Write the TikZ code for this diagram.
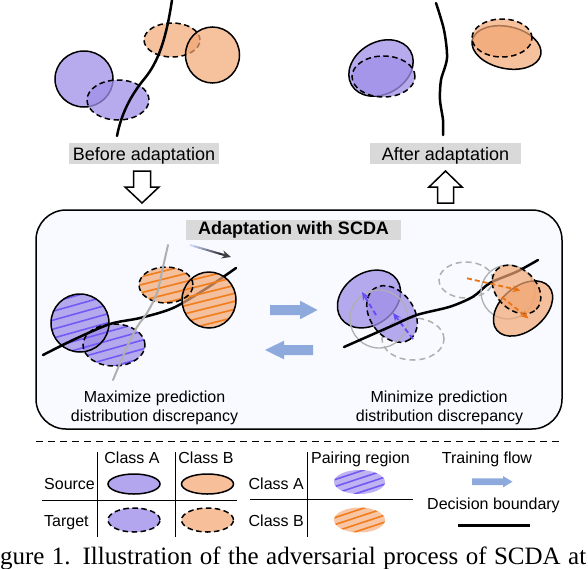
\documentclass[tikz,border=0pt]{standalone}
\usepackage{fontspec}
\setmainfont{Liberation Sans}
\newfontfamily\capfont{Liberation Serif}
\usetikzlibrary{arrows.meta,calc}
\definecolor{pA}{RGB}{159,143,232}
\definecolor{pAL}{RGB}{180,166,238}
\definecolor{oB}{RGB}{242,166,115}
\definecolor{oBL}{RGB}{247,192,155}
\definecolor{hatchP}{RGB}{115,90,245}
\definecolor{hatchO}{RGB}{240,125,30}
\definecolor{flow}{RGB}{142,170,220}
\definecolor{lblgray}{RGB}{217,217,217}
\definecolor{boxbg}{RGB}{248,250,255}
\definecolor{ghost}{RGB}{175,175,175}
\definecolor{arrP}{RGB}{100,75,245}
\definecolor{arrO}{RGB}{235,115,20}
\definecolor{gstart}{RGB}{205,215,248}
\tikzset{
  solidA/.style={draw=black, line width=1.5pt, fill=pA, fill opacity=0.75},
  dashA/.style={solidA, dash pattern=on 5.5pt off 3.5pt},
  solidB/.style={draw=black, line width=1.5pt, fill=oB, fill opacity=0.7},
  dashB/.style={solidB, dash pattern=on 5.5pt off 3.5pt},
  bnd/.style={line width=2.5pt, black, line cap=round},
  gbnd/.style={line width=2pt, ghost, line cap=round},
  ghostsolid/.style={draw=ghost, line width=1.3pt},
  ghostdash/.style={draw=ghost, line width=1.5pt, dash pattern=on 6pt off 4pt},
  hatchpl/.style={hatchP, line width=1.6pt},
  hatchol/.style={hatchO, line width=1.6pt},
  lbl/.style={fill=lblgray, inner sep=0pt, font=\fontsize{18}{20}\selectfont},
  txt/.style={inner sep=0pt, font=\fontsize{16}{18}\selectfont},
  hollow/.style={draw=black, line width=1.5pt, fill=white, line join=miter},
  tline/.style={line width=1.5pt, black},
  parrow/.style={arrP, line width=1.8pt, dash pattern=on 5pt off 3pt, -{Stealth[length=8pt,width=7pt]}},
  oarrow/.style={arrO, line width=1.8pt, dash pattern=on 5pt off 3pt, -{Stealth[length=8pt,width=7pt]}},
}
\begin{document}
\begin{tikzpicture}[x=1pt,y=-1pt]
\useasboundingbox (0,0) rectangle (588,568);

% ---------------- top left: before adaptation ----------------
\draw[solidA] (84,79) ellipse [x radius=29pt, y radius=28pt];
\draw[dashA] (118,100) ellipse [x radius=31pt, y radius=20pt];
\draw[dashB] (172,40) ellipse [x radius=28pt, y radius=17pt];
\draw[solidB] (212.5,55) ellipse [x radius=27pt, y radius=28pt];
\draw[bnd] (172,0) .. controls (166,40) and (158,62) .. (145,78) .. controls (130,96) and (121,115) .. (117,136);

\node[lbl, minimum width=150pt, text height=17.5pt, text depth=3.5pt, anchor=base] (before) at (144,160.5) {Before adaptation};
\draw[hollow] (133.5,171) -- (150.5,171) -- (150.5,187) -- (159,187) -- (142,203) -- (125,187) -- (133.5,187) -- cycle;

% ---------------- top right: after adaptation ----------------
\draw[solidA, rotate around={30:(381,68)}] (381,68) ellipse [x radius=34pt, y radius=26pt];
\draw[dashA] (383.5,76.5) ellipse [x radius=31.5pt, y radius=20.5pt];
\draw[solidB, rotate around={-12:(506.5,47.5)}] (506.5,47.5) ellipse [x radius=35pt, y radius=21pt];
\draw[dashB] (502,38) ellipse [x radius=30pt, y radius=19pt];
\draw[bnd] plot[smooth] coordinates {(436,3) (444,30) (447,58) (441,80) (440,100) (443,120) (443,135)};

\node[lbl, minimum width=151pt, text height=17.5pt, text depth=3.5pt, anchor=base] (after) at (445.5,160.5) {After adaptation};
\draw[hollow] (445.5,171) -- (462,187) -- (453.5,187) -- (453.5,203) -- (437.5,203) -- (437.5,187) -- (429,187) -- cycle;

% ---------------- main box ----------------
\draw[line width=1.5pt, fill=boxbg, rounded corners=30pt] (36,210) rectangle (562,429);
\node[lbl, minimum width=215pt, text height=14.5pt, text depth=5.5pt, anchor=base, font=\bfseries\fontsize{18}{20}\selectfont] (scda) at (293.5,234.5) {Adaptation with SCDA};

% left sub-figure (maximize)
\fill[pA, opacity=0.75] (80,323) circle [radius=29pt];
\fill[pA, opacity=0.75] (114,345) ellipse [x radius=31pt, y radius=21pt];
\begin{scope}
  \clip (80,323) circle [radius=29pt] (114,345) ellipse [x radius=31pt, y radius=21pt];
  \foreach \k in {-4,...,8} \draw[hatchpl] (40,{323.8+9*\k}) -- (160,{290.2+9*\k});
\end{scope}
\draw[line width=1.5pt] (80,323) circle [radius=29pt];
\draw[line width=1.5pt, dash pattern=on 5.5pt off 3.5pt] (114,345) ellipse [x radius=31pt, y radius=21pt];
\fill[oB, opacity=0.7] (166,285) ellipse [x radius=27pt, y radius=18pt];
\draw[bnd] plot[smooth] coordinates {(43,355) (73,340) (110,324) (140,318) (173,308) (207,288) (236,268)};
\fill[oB, opacity=0.7] (209,300) ellipse [x radius=27pt, y radius=28pt];
\begin{scope}
  \clip (166,285) ellipse [x radius=27pt, y radius=18pt] (209,300) ellipse [x radius=27pt, y radius=28pt];
  \foreach \k in {-3,...,9} \draw[hatchol] (130,{287.5+8*\k}) -- (250,{257.5+8*\k});
\end{scope}
\draw[line width=1.5pt, dash pattern=on 5.5pt off 3.5pt] (166,285) ellipse [x radius=27pt, y radius=18pt];
\draw[line width=1.5pt] (209,300) ellipse [x radius=27pt, y radius=28pt];
\draw[gbnd] plot[smooth] coordinates {(168,245) (163,267) (157,293) (147,313) (137,327) (127,347) (113,380)};
\coordinate (g1) at (190,245);
\coordinate (g2) at (231,257);
\foreach \i in {0,...,7} {
  \pgfmathtruncatemacro\p{100-\i*11}
  \draw[line width=2pt, gstart!\p!black] ($(g1)!{\i/8*0.8}!(g2)$) -- ($(g1)!{(\i+1)/8*0.8+0.01}!(g2)$);
}
\draw[line width=2pt, black!75, -{Stealth[length=9pt,width=8pt]}] ($(g1)!0.8!(g2)$) -- (g2);

\node[txt, anchor=base] (maxT1) at (154.5,402.3) {Maximize prediction};
\node[txt, anchor=base] (maxT2) at (154.5,421) {distribution discrepancy};

% training flow arrows
\fill[flow] (270,305) -- (300,305) -- (300,300.7) -- (317.5,310) -- (300,319.3) -- (300,315) -- (270,315) -- cycle;
\fill[flow] (313,345) -- (284,345) -- (284,340.7) -- (265,350) -- (284,359.3) -- (284,355) -- (313,355) -- cycle;

% right sub-figure (minimize)
\draw[ghostdash] (413,339) ellipse [x radius=31pt, y radius=21pt];
\draw[ghostdash] (466,280) ellipse [x radius=27pt, y radius=18pt];
\draw[solidA, rotate around={35:(369,299)}] (369,299) ellipse [x radius=34pt, y radius=26pt];
\draw[dashA, rotate around={-55:(392,314)}] (392,314) ellipse [x radius=31pt, y radius=22pt];
\draw[ghostsolid] (379,319) circle [radius=29pt];
\draw[parrow] (376,315) -- (362,292);
\draw[parrow] (413,339) -- (393,313);
\draw[bnd] plot[smooth] coordinates {(344,347) (390,326.7) (416.7,315) (450,306.7) (473,296.7) (490,283) (516.7,271.7) (538,260)};
\draw[ghostsolid] (508,292) circle [radius=27pt];
\draw[solidB, rotate around={40:(523,308.5)}] (523,308.5) ellipse [x radius=34pt, y radius=22pt];
\draw[dashB, rotate around={-45:(516.5,289.5)}] (516.5,289.5) ellipse [x radius=28pt, y radius=20pt];
\draw[oarrow] (467,278.3) -- (520.5,290.5);
\draw[oarrow] (502,297) -- (528.5,318.5);

\node[txt, anchor=base] (minT1) at (439,402.3) {Minimize prediction};
\node[txt, anchor=base] (minT2) at (439.5,421) {distribution discrepancy};

% ---------------- legend ----------------
\draw[line width=1.3pt, dash pattern=on 7pt off 5pt] (36,441.7) -- (561,441.7);

\draw[tline] (97.7,452) -- (97.7,537);
\draw[tline] (175.7,452) -- (175.7,537);
\draw[tline] (42,500.7) -- (237,500.7);
\node[txt, anchor=base] (lca) at (132,463.3) {Class A};
\node[txt, anchor=base] (lcb) at (206,463.3) {Class B};
\node[txt, anchor=base west] (lsrc) at (44,489.3) {Source};
\node[txt, anchor=base west] (ltgt) at (44,526) {Target};
\draw[line width=1.5pt, fill=pAL] (134,484) ellipse [x radius=26pt, y radius=10pt];
\draw[line width=1.5pt, fill=oBL] (207.5,484) ellipse [x radius=26pt, y radius=10pt];
\draw[line width=1.5pt, fill=pAL, dash pattern=on 5.5pt off 3.5pt] (134,520) ellipse [x radius=26pt, y radius=12pt];
\draw[line width=1.5pt, fill=oBL, dash pattern=on 5.5pt off 3.5pt] (207.5,520) ellipse [x radius=26pt, y radius=12pt];

\draw[tline] (307.3,452) -- (307.3,537);
\draw[tline] (250,499.5) -- (413,499.5);
\node[txt, anchor=base east] (lca2) at (304,489.3) {Class A};
\node[txt, anchor=base east] (lcb2) at (304,526) {Class B};
\node[txt, anchor=base] (lpr) at (360.5,463.3) {Pairing region};
\fill[pAL, opacity=0.85] (359.5,482) ellipse [x radius=25.5pt, y radius=12pt];
\begin{scope}
  \clip (359.5,482) ellipse [x radius=25.5pt, y radius=12pt];
  \foreach \o in {-10.5,-3.5,3.5,10.5} \draw[hatchpl] (330,{491.7+\o}) -- (390,{471.9+\o});
\end{scope}
\fill[oBL, opacity=0.9] (359.5,520) ellipse [x radius=25.5pt, y radius=12.5pt];
\begin{scope}
  \clip (359.5,520) ellipse [x radius=25.5pt, y radius=12.5pt];
  \foreach \o in {-10.5,-3.5,3.5,10.5} \draw[hatchol] (330,{529.7+\o}) -- (390,{509.9+\o});
\end{scope}

\node[txt, anchor=base] (ltf) at (487,463.3) {Training flow};
\fill[flow] (472,478.3) -- (503,478.3) -- (503,476) -- (512.5,481.7) -- (503,487.4) -- (503,485) -- (472,485) -- cycle;
\node[txt, anchor=base] (ldb) at (493.5,509) {Decision boundary};
\draw[line width=2.5pt] (458,525.7) -- (530,525.7);

% caption (cut by the picture edge, as in the reference)
\node[anchor=base west, inner sep=0pt, font=\capfont\fontsize{25}{28}\selectfont] (cap) at (-21,564) {\makebox[607pt][s]{Figure 1. Illustration of the adversarial process of SCDA at}};
\end{tikzpicture}
\end{document}
